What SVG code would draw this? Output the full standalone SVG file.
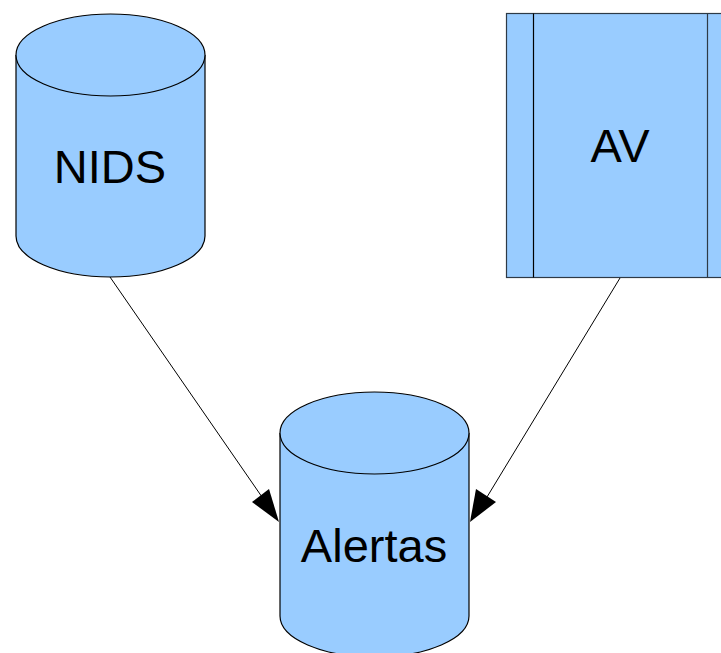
<svg xmlns="http://www.w3.org/2000/svg" width="721" height="653" viewBox="0 0 721 653">
  <style>
    .shape { fill: #99ccff; stroke: #000; stroke-width: 1.2; }
    .box { fill: #99ccff; stroke: #2e3a46; stroke-width: 1.2; }
    .label { font-family: "Liberation Sans", Arial, sans-serif; font-size: 47px; fill: #000; text-anchor: middle; }
    .edge { stroke: #000; stroke-width: 1; fill: none; }
    .head { fill: #000; stroke: none; }
  </style>

  <!-- NIDS data store -->
  <g id="nids">
    <path class="shape" d="M16,55 L16,236 A94.5,41 0 0 0 205,236 L205,55 A94.5,41 0 0 0 16,55 Z"/>
    <path class="shape" fill="none" d="M16,55 A94.5,41 0 0 0 205,55"/>
    <text class="label" x="110" y="183">NIDS</text>
  </g>

  <!-- AV process -->
  <g id="av">
    <rect class="box" x="506.5" y="13.5" width="228" height="264"/>
    <line class="box" x1="533.5" y1="13.5" x2="533.5" y2="277.5" style="stroke:#000"/>
    <line class="box" x1="707.5" y1="13.5" x2="707.5" y2="277.5"/>
    <text class="label" x="620" y="162">AV</text>
  </g>

  <!-- Alertas data store -->
  <g id="alertas">
    <path class="shape" d="M280,433 L280,616 A94.5,41 0 0 0 469,616 L469,433 A94.5,41 0 0 0 280,433 Z"/>
    <path class="shape" fill="none" d="M280,433 A94.5,41 0 0 0 469,433"/>
    <text class="label" x="374" y="562">Alertas</text>
  </g>

  <!-- connectors -->
  <g id="connectors">
    <line class="edge" x1="110" y1="277" x2="262" y2="497"/>
    <polygon class="head" points="279,522 252,502 269,489"/>
    <line class="edge" x1="620" y1="278" x2="487" y2="497"/>
    <polygon class="head" points="470,522 476,489 496,502"/>
  </g>
</svg>
